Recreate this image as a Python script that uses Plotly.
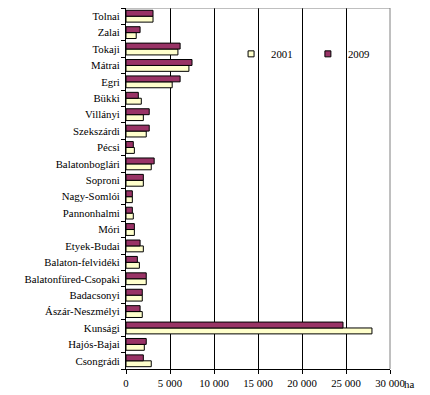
import plotly.graph_objects as go

# categories listed bottom-to-top
regions = ["Csongrádi", "Hajós-Bajai", "Kunsági", "Ászár-Neszmélyi", "Badacsonyi",
           "Balatonfüred-Csopaki", "Balaton-felvidéki", "Etyek-Budai", "Móri",
           "Pannonhalmi", "Nagy-Somlói", "Soproni", "Balatonboglári", "Pécsi",
           "Szekszárdi", "Villányi", "Bükki", "Egri", "Mátrai", "Tokaji", "Zalai", "Tolnai"]
values_2001 = [2870, 2080, 27950, 1850, 1850, 2300, 1520, 1970, 950, 830, 720, 1970,
               2870, 950, 2300, 1970, 1740, 5250, 7150, 5900, 1160, 3070]
values_2009 = [1970, 2300, 24660, 1600, 1850, 2300, 1290, 1600, 950, 720, 720, 1970,
               3200, 830, 2640, 2640, 1400, 6150, 7500, 6150, 1600, 3070]
tick_vals = [0, 5000, 10000, 15000, 20000, 25000, 30000]
tick_text = ["0", "5 000", "10 000", "15 000", "20 000", "25 000", "30 000"]
series_names = ["2001", "2009"]
series_colors = ["#FFFFCC", "#993366"]
legend_ids = ["legend", "legend2"]

font = dict(family="Liberation Serif", size=10.8, color="black")

fig = go.Figure()
for name, vals, col in zip(series_names, [values_2001, values_2009], series_colors):
    fig.add_trace(go.Bar(y=regions, x=vals, orientation="h", name=name, showlegend=False,
                         marker=dict(color=col, line=dict(color="black", width=1))))
# legend entries with small square keys
for name, col, lg in zip(series_names, series_colors, legend_ids):
    fig.add_trace(go.Scatter(x=[None], y=[None], mode="markers", name=name, legend=lg,
                             marker=dict(symbol="square", size=6, color=col,
                                         line=dict(color="black", width=1))))

legend_style = dict(orientation="h", y=0.873, xanchor="left", yanchor="middle",
                    itemwidth=30, font=font, bgcolor="rgba(0,0,0,0)", borderwidth=0)
fig.update_layout(
    width=422, height=387,
    margin=dict(l=118, r=40, t=0, b=26),
    paper_bgcolor="white", plot_bgcolor="white",
    font=font,
    barmode="group", bargap=0.28, bargroupgap=0,
    showlegend=True,
    legend=dict(x=0.398, **legend_style),
    legend2=dict(x=0.689, **legend_style),
    xaxis=dict(range=[0, 30000], tickvals=tick_vals, ticktext=tick_text,
               showgrid=True, gridcolor="black", gridwidth=1,
               showline=True, linecolor="black", linewidth=1,
               ticks="outside", ticklen=4, tickcolor="black", zeroline=False,
               fixedrange=True),
    yaxis=dict(showline=True, linecolor="black", linewidth=1,
               ticks="outside", ticklen=4, tickcolor="black", tickson="boundaries",
               showgrid=False, fixedrange=True, ticklabelstandoff=3),
)
# gray top and right frame
fig.add_shape(type="line", xref="paper", yref="paper", x0=0, x1=1, y0=1, y1=1,
              line=dict(color="#808080", width=1), layer="above")
fig.add_shape(type="line", xref="paper", yref="paper", x0=1, x1=1, y0=0, y1=1,
              line=dict(color="#808080", width=1), layer="above")
fig.add_annotation(text="ha", xref="x", yref="paper", x=30000, y=0, xanchor="left",
                   yanchor="top", xshift=12, yshift=-7, showarrow=False, font=font)

fig.write_html("out.html")
